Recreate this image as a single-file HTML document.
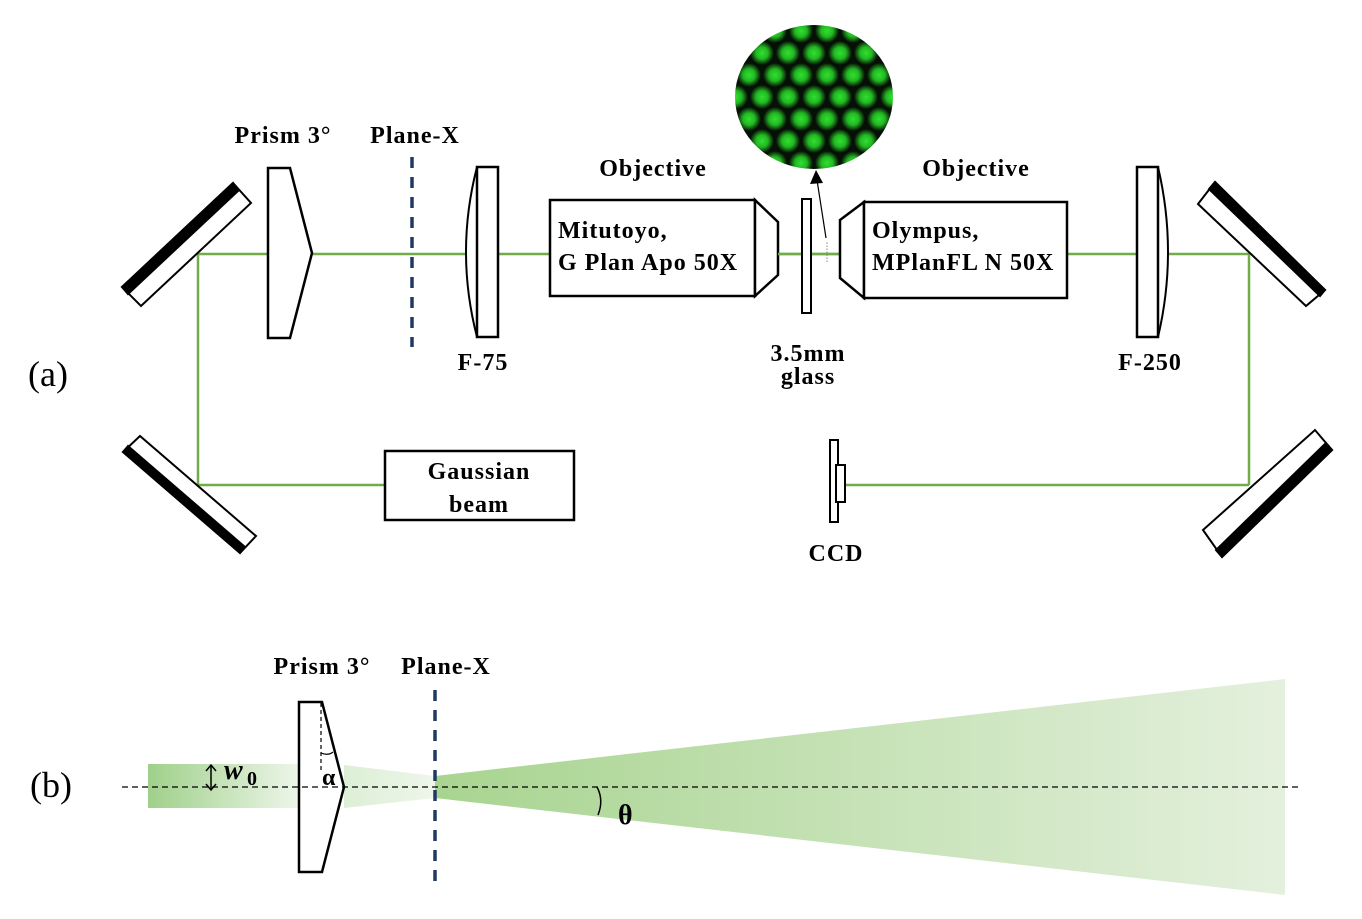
<!DOCTYPE html>
<html><head><meta charset="utf-8"><style>
html,body{margin:0;padding:0;background:#fff;}
svg{display:block;}
text{font-family:"Liberation Serif",serif;font-weight:bold;fill:#000;}
</style></head><body>
<svg width="1362" height="919" viewBox="0 0 1362 919" xmlns="http://www.w3.org/2000/svg">
<defs>
<radialGradient id="dot"><stop offset="0" stop-color="#30e030"/><stop offset="0.5" stop-color="#22b822"/><stop offset="1" stop-color="#22b822" stop-opacity="0"/></radialGradient>
<pattern id="lat" x="736" y="20" width="26" height="44" patternUnits="userSpaceOnUse">
<rect width="26" height="44" fill="#061006"/>
<circle cx="13" cy="11" r="12" fill="url(#dot)"/>
<circle cx="0" cy="33" r="12" fill="url(#dot)"/>
<circle cx="26" cy="33" r="12" fill="url(#dot)"/>
<circle cx="0" cy="-11" r="12" fill="url(#dot)"/>
<circle cx="26" cy="-11" r="12" fill="url(#dot)"/>
<circle cx="13" cy="55" r="12" fill="url(#dot)"/>
</pattern>
<linearGradient id="g1" x1="0" x2="1" y1="0" y2="0"><stop offset="0" stop-color="#9fd08a"/><stop offset="1" stop-color="#eef6ea"/></linearGradient>
<linearGradient id="g2" x1="0" x2="1" y1="0" y2="0"><stop offset="0" stop-color="#dcefd6"/><stop offset="1" stop-color="#eef6ea"/></linearGradient>
<linearGradient id="g3" x1="0" x2="1" y1="0" y2="0"><stop offset="0" stop-color="#a8d490"/><stop offset="1" stop-color="#e4f0dd"/></linearGradient>
<clipPath id="cc"><ellipse cx="814" cy="97" rx="79" ry="72"/></clipPath>
</defs>

<g stroke="#70ad47" stroke-width="2.5" fill="none">
<line x1="198" y1="254" x2="1249" y2="254"/>
<line x1="198" y1="254" x2="198" y2="485"/>
<line x1="198" y1="485" x2="385" y2="485"/>
<line x1="1249" y1="254" x2="1249" y2="485"/>
<line x1="1249" y1="485" x2="845" y2="485"/>
</g>

<g stroke="#000" stroke-width="2" fill="#fff">
<polygon points="122,287 233,183 251,203 141,306"/>
<polygon points="122,287 233,183 239,190 128,294" fill="#000"/>
<polygon points="123,452 140,436 256,536 240,553"/>
<polygon points="123,452 240,553 245,547 128,446" fill="#000"/>
<polygon points="1198,204 1215,182 1325,290 1306,306"/>
<polygon points="1215,182 1325,290 1320,296 1209,189" fill="#000"/>
<polygon points="1203,530 1315,430 1332,450 1222,557"/>
<polygon points="1332,450 1222,557 1216,550 1326,443" fill="#000"/>
</g>

<polygon points="268,168 290,168 312,253 290,338 268,338" fill="#fff" stroke="#000" stroke-width="2.5"/>
<line x1="412" y1="157" x2="412" y2="347" stroke="#1f3864" stroke-width="3.5" stroke-dasharray="11,9"/>

<path d="M477,167 Q455,252 477,337" fill="#fff" stroke="#000" stroke-width="2"/>
<rect x="477" y="167" width="21" height="170" fill="#fff" stroke="#000" stroke-width="2.5"/>

<rect x="550" y="200" width="205" height="96" fill="#fff" stroke="#000" stroke-width="2.5"/>
<polygon points="755,200 778,222 778,275 755,296" fill="#fff" stroke="#000" stroke-width="2.5"/>
<line x1="778" y1="254" x2="842" y2="254" stroke="#70ad47" stroke-width="2.5"/>
<rect x="802" y="199" width="9" height="114" fill="#fff" stroke="#000" stroke-width="2"/>
<line x1="827" y1="262" x2="827" y2="242" stroke="#888" stroke-width="1" stroke-dasharray="1.5,1.5"/>
<line x1="826" y1="238" x2="817" y2="180" stroke="#000" stroke-width="1.2"/>
<polygon points="816,170 810,184 823,183" fill="#000"/>
<polygon points="840,220 864,202 864,298 840,278" fill="#fff" stroke="#000" stroke-width="2.5"/>
<rect x="864" y="202" width="203" height="96" fill="#fff" stroke="#000" stroke-width="2.5"/>

<path d="M1158,167 Q1178,252 1158,337" fill="#fff" stroke="#000" stroke-width="2"/>
<rect x="1137" y="167" width="21" height="170" fill="#fff" stroke="#000" stroke-width="2.5"/>

<rect x="730" y="20" width="170" height="155" fill="url(#lat)" clip-path="url(#cc)"/>

<rect x="385" y="451" width="189" height="69" fill="#fff" stroke="#000" stroke-width="2.5"/>
<rect x="830" y="440" width="8" height="82" fill="#fff" stroke="#000" stroke-width="2"/>
<rect x="836" y="465" width="9" height="37" fill="#fff" stroke="#000" stroke-width="2"/>

<g font-size="24" letter-spacing="1">
<text x="283" y="143" text-anchor="middle">Prism 3°</text>
<text x="415" y="143" text-anchor="middle">Plane-X</text>
<text x="653" y="176" text-anchor="middle">Objective</text>
<text x="976" y="176" text-anchor="middle">Objective</text>
<text x="558" y="238">Mitutoyo,</text>
<text x="558" y="270">G Plan Apo 50X</text>
<text x="872" y="238">Olympus,</text>
<text x="872" y="270">MPlanFL N 50X</text>
<text x="483" y="370" text-anchor="middle">F-75</text>
<text x="1150" y="370" text-anchor="middle">F-250</text>
<text x="808" y="361" text-anchor="middle">3.5mm</text>
<text x="808" y="384" text-anchor="middle">glass</text>
<text x="479" y="479" text-anchor="middle">Gaussian</text>
<text x="479" y="512" text-anchor="middle">beam</text>
<text x="836" y="561" text-anchor="middle">CCD</text>
<text x="322" y="674" text-anchor="middle">Prism 3°</text>
<text x="446" y="674" text-anchor="middle">Plane-X</text>
</g>
<text x="28" y="386" font-size="36" style="font-weight:normal">(a)</text>
<text x="30" y="797" font-size="36" style="font-weight:normal">(b)</text>

<rect x="148" y="764" width="152" height="44" fill="url(#g1)"/>
<polygon points="344,765 435,776 435,798 344,808" fill="url(#g2)"/>
<polygon points="435,776 1285,679 1285,895 435,798" fill="url(#g3)"/>
<line x1="122" y1="787" x2="1300" y2="787" stroke="#000" stroke-width="1.3" stroke-dasharray="6,4"/>
<polygon points="299,702 322,702 344,787 322,872 299,872" fill="none" stroke="#000" stroke-width="2.5"/>
<line x1="321" y1="703" x2="321" y2="772" stroke="#000" stroke-width="1.2" stroke-dasharray="4,3"/>
<path d="M321,753 Q328,756 333,752" fill="none" stroke="#000" stroke-width="1.2"/>
<text x="322" y="785" font-size="24">α</text>
<line x1="435" y1="690" x2="435" y2="885" stroke="#1f3864" stroke-width="3.5" stroke-dasharray="11,9"/>
<g stroke="#000" stroke-width="1.5" fill="none">
<line x1="211" y1="766" x2="211" y2="789"/>
<polyline points="206,771 211,765 216,771"/>
<polyline points="206,784 211,790 216,784"/>
</g>
<text x="224" y="779" font-size="28" font-style="italic">w</text>
<text x="247" y="785" font-size="20">0</text>
<path d="M597,787 Q604,800 598,815" fill="none" stroke="#000" stroke-width="1.5"/>
<text x="618" y="824" font-size="28">θ</text>
</svg>
</body></html>
